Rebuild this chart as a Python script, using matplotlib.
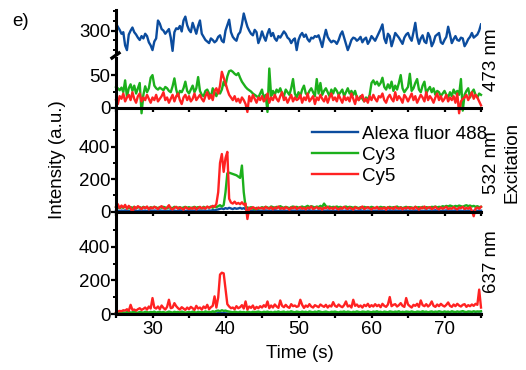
import numpy as np
import matplotlib
matplotlib.use("Agg")
import matplotlib.pyplot as plt

plt.rcParams['font.family'] = ['Liberation Sans', 'DejaVu Sans']
plt.rcParams['font.size'] = 13.5

# time axis: 25 s to 75 s, one frame every 0.25 s
t_start, t_step = 25.0, 0.25

# 473 nm excitation (top panel)
blue_473 = [
    318, 310, 302, 292, 296, 262, 250, 290, 300, 308, 296, 290, 282, 276, 286, 280, 292, 286, 270, 262,
    250, 272, 280, 326, 318, 304, 300, 292, 298, 304, 282, 248, 296, 306, 304, 312, 298, 326, 336, 314,
    302, 296, 320, 306, 292, 312, 326, 292, 284, 276, 272, 268, 280, 276, 270, 274, 284, 288, 274, 270,
    300, 314, 328, 296, 284, 278, 274, 290, 296, 316, 344, 326, 310, 300, 292, 288, 302, 296, 268, 280,
    298, 284, 274, 292, 304, 286, 294, 280, 274, 286, 282, 290, 298, 292, 282, 278, 268, 276, 280, 250,
    276, 288, 294, 284, 290, 278, 272, 282, 280, 286, 284, 288, 274, 258, 282, 302, 284, 276, 270, 274,
    272, 266, 276, 290, 298, 282, 266, 250, 262, 276, 282, 280, 274, 278, 284, 270, 278, 282, 266, 274,
    286, 280, 274, 284, 294, 304, 316, 280, 268, 292, 286, 260, 276, 294, 288, 282, 274, 266, 282, 290,
    294, 282, 274, 296, 320, 284, 266, 280, 288, 272, 268, 294, 284, 260, 270, 286, 290, 294, 270, 266,
    276, 284, 310, 290, 268, 278, 286, 276, 274, 282, 280, 260, 268, 278, 284, 294, 282, 286, 290, 300,
    316]
green_473 = [
    32, 30, 27, 31, 24, 42, 17, 30, 36, 26, 34, 22, 30, 38, -8, 20, 33, 24, 30, 46,
    50, 34, 30, 28, 31, 29, 27, 32, 30, 26, 24, 33, 45, 28, 18, 26, 24, 30, 40, 26,
    22, 28, 34, 24, 30, 47, 26, 20, 18, 26, 28, 22, 16, 30, 24, 18, 27, 22, 28, 40,
    34, 48, 56, 57, 55, 52, 50, 53, 46, 40, 36, 32, 29, 27, 25, 22, 20, 18, 16, 22,
    28, 14, 20, -6, 60, 18, 26, 20, 28, 24, 30, 22, 18, 28, 24, 20, 30, 44, 22, 16,
    24, 18, 28, 34, 22, 20, 26, 30, 24, 18, 44, 22, 38, 20, 26, 30, 24, 18, 28, 22,
    30, 26, 20, 24, 28, 18, 24, 30, 22, 26, 20, 26, 16, 12, 18, 14, 10, 16, 12, 20,
    38, 42, 36, 40, 34, 38, 46, 32, 28, 36, 30, 40, 26, 34, 28, 38, 50, 30, 24, 28,
    32, 52, 26, 30, 38, 44, 28, 24, 34, 40, 22, 28, 32, 24, 30, 20, 26, 24, 18, 22,
    26, 20, 16, 24, 18, 28, 22, 26, 20, 44, -4, 20, 26, 30, 16, 24, 28, 20, 16, 22,
    20]
red_473 = [
    12, 6, 18, 14, 22, 10, 16, 20, 12, 24, 14, 8, 18, 22, 10, 16, 12, 20, 14, 8,
    16, 12, 20, 10, 14, 18, 24, 12, 16, 8, 14, 20, 10, 18, 22, 12, 6, 16, 20, 12,
    18, 10, 14, 22, 12, 16, 20, 14, 10, 18, 24, 14, 20, 12, 26, 30, 22, 34, 55, 46,
    38, 28, 20, 16, 12, 18, 10, 14, 8, 16, 12, 6, -6, 18, 10, 20, 14, 8, 16, 12,
    18, 10, 14, 22, 8, 16, 12, 20, 14, 10, 18, 24, 12, 16, 8, 14, 20, 10, 16, 12,
    14, 20, 8, 16, 12, 22, 10, 14, 18, 6, 16, 12, 20, 14, 10, 18, 8, 16, 22, 12,
    16, 10, 20, 14, 8, 18, 12, 16, 10, 22, 14, 6, 18, 12, 16, 20, 10, 14, 8, 18,
    12, 20, 14, 10, 18, 16, 22, 12, 8, 16, 20, 14, 10, 24, 12, 18, 14, 8, 20, 16,
    10, 16, 22, 12, 18, 8, 14, 20, 16, 10, 24, 12, 18, 14, 8, 16, 22, 12, 18, 10,
    14, 20, 10, 16, 12, 18, 8, 22, -8, 10, 14, 16, 20, 12, 18, 24, 14, 20, 16, 10,
    4]

# 532 nm excitation (middle panel)
blue_532 = [
    8, 6, 4, 7, 5, 8, 6, 3, 7, 5, 9, 6, 4, 8, 6, 5, 7, 4, 6, 8,
    5, 7, 6, 4, 8, 6, 5, 7, 3, 6, 8, 5, 7, 4, 6, 9, 5, 6, 4, 7,
    6, 8, 5, 7, 4, 6, 8, 5, 7, 6, 4, 8, 6, 10, 8, 12, 14, 18, 20, 16,
    22, 18, 24, 20, 16, 22, 18, 20, 24, 18, 22, 16, 12, 8, 6, 7, 5, 8, 6, 4,
    7, 5, 8, 6, 4, 7, 5, 9, 6, 4, 8, 6, 5, 7, 3, 6, 8, 5, 7, 4,
    6, 8, 5, 7, 4, 6, 9, 5, 7, 6, 4, 8, 6, 5, 7, 4, 8, 6, 5, 7,
    5, 7, 4, 8, 6, 5, 7, 3, 6, 8, 5, 7, 4, 6, 9, 5, 6, 4, 7, 5,
    8, 6, 4, 7, 5, 8, 6, 4, 7, 5, 9, 6, 4, 8, 6, 5, 7, 4, 6, 8,
    5, 7, 6, 4, 8, 6, 5, 7, 3, 6, 8, 5, 7, 4, 6, 9, 5, 6, 4, 7,
    6, 8, 5, 7, 4, 6, 8, 5, 7, 6, 4, 8, 6, 5, 7, -3, 6, 8, 5, 7,
    6]
green_532 = [
    30, 26, 22, 28, 24, 32, 26, 20, 28, 24, 30, 22, 26, 28, 22, 30, 24, 26, 20, 28,
    24, 30, 26, 22, 28, 24, 30, 26, 20, 28, 24, 22, 30, 26, 24, 28, 22, 26, 30, 24,
    28, 22, 26, 30, 24, 28, 26, 20, 30, 24, 28, 26, 32, 24, 30, 28, 34, 40, 32, 40,
    120, 236, 240, 236, 232, 228, 224, 216, 208, 284, 120, 30, 26, 22, 28, 20, 14, 24, 18, 22,
    28, 24, 30, 26, 22, 32, 28, 24, 30, 26, 34, 28, 24, 30, 26, 22, 28, 32, 26, 30,
    24, 28, 32, 26, 30, 36, 28, 34, 30, 26, 32, 28, 36, 30, 50, 34, 28, 32, 26, 30,
    28, 32, 26, 30, 24, 28, 32, 26, 30, 28, 24, 30, 26, 22, 28, 24, 30, 26, 28, 24,
    30, 26, 22, 28, 24, 30, 26, 28, 22, 26, 30, 24, 28, 26, 32, 24, 28, 22, 26, 30,
    24, 28, 26, 22, 30, 26, 28, 24, 30, 22, 28, 26, 24, 30, 28, 32, 26, 30, 28, 34,
    30, 36, 32, 38, 34, 30, 36, 32, 38, 34, 30, 36, 40, 34, 38, 32, 36, 30, 34, 28,
    30]
red_532 = [
    30, 46, 22, 38, 26, 42, 18, 36, 24, -6, 30, 20, 34, 26, 16, 28, 22, 32, 14, 26,
    20, 30, 24, 16, 28, 34, 22, 18, 26, 40, 20, 14, 24, 30, 18, 26, 20, 12, 28, 22,
    16, 24, 18, 28, 14, 22, 30, 20, 26, 18, 32, 24, 28, 36, 30, 48, 120, 300, 355, 245,
    330, 368, 80, 56, 50, 62, 48, 54, 46, 58, 44, 50, -45, 24, 18, 28, 22, 16, 26, 20,
    24, 16, 30, 22, 18, 28, 14, 26, 20, 32, 18, 24, 16, 28, 22, 12, 26, 20, 30, 16,
    22, 28, 18, 24, 14, 26, 20, 32, 16, 22, 28, 18, 24, 12, 26, 20, 30, 18, 24, 16,
    28, 20, 14, 24, 18, 30, 22, 16, 26, 20, 12, 28, 22, 18, 24, 32, 16, 22, 28, 20,
    14, 24, 20, 30, 16, 22, 18, 26, 12, 28, 20, 24, 16, 30, 22, 18, 26, 14, 24, 20,
    28, 18, 24, 16, 30, 22, 12, 26, 20, 32, 18, 24, 28, 16, 22, 30, 20, 14, 26, 18,
    24, 30, 16, 22, 18, 28, 20, 14, 26, 22, 30, 16, 24, 18, 28, 6, -28, 20, 26, 18,
    30]

# 637 nm excitation (bottom panel)
blue_637 = [
    3, 5, 4, 6, 3, 4, 5, 2, 4, 6, 3, 5, 4, 3, 6, 4, 5, 3, 4, 5,
    4, 6, 3, 5, 4, 2, 5, 4, 6, 3, 4, 5, 3, 6, 4, 5, 2, 4, 5, 3,
    5, 3, 4, 6, 4, 5, 3, 4, 6, 5, 3, 4, 5, 4, 6, 5, 7, 8, 6, 7,
    6, 5, 4, 6, 3, 5, 4, 6, 3, 4, 5, 3, 6, 4, 5, 2, 4, 5, 3, 4,
    5, 3, 6, 4, 5, 3, 4, 6, 4, 5, 3, 4, 6, 5, 3, 4, 5, 3, 6, 4,
    4, 6, 3, 5, 4, 6, 3, 4, 5, 3, 6, 4, 5, 4, 3, 6, 4, 5, 3, 4,
    6, 4, 5, 3, 4, 6, 5, 3, 4, 6, 4, 5, 3, 5, 4, 6, 3, 4, 5, 4,
    3, 5, 4, 6, 3, 5, 4, 3, 6, 4, 5, 3, 4, 6, 5, 4, 3, 5, 4, 6,
    5, 4, 3, 6, 4, 5, 3, 4, 6, 5, 4, 3, 5, 4, 6, 3, 5, 4, 3, 5,
    4, 6, 5, 3, 4, 5, 6, 4, 3, 5, 4, 6, 3, 5, 4, 5, 3, 6, 4, 5,
    4]
green_637 = [
    8, 12, 10, 14, 11, 9, 13, 15, 10, 12, 16, 11, 9, 14, 12, 10, 15, 13, 11, 14,
    12, 16, 10, 13, 15, 11, 14, 9, 12, 16, 13, 10, 15, 12, 14, 11, 16, 13, 10, 12,
    14, 11, 16, 13, 10, 15, 12, 14, 11, 17, 13, 15, 12, 18, 14, 20, 22, 18, 24, 20,
    22, 18, 16, 14, 12, 16, 13, 11, 15, 12, 14, 10, 16, 13, 11, 15, 12, 14, 16, 13,
    11, 15, 13, 16, 12, 14, 10, 15, 13, 17, 12, 14, 16, 11, 15, 13, 18, 14, 12, 16,
    14, 12, 16, 13, 15, 11, 17, 14, 12, 16, 13, 18, 15, 12, 14, 16, 13, 11, 15, 14,
    16, 13, 11, 15, 14, 17, 12, 16, 14, 11, 15, 13, 17, 14, 12, 16, 15, 13, 17, 14,
    12, 16, 14, 18, 13, 15, 11, 16, 14, 12, 17, 15, 13, 16, 14, 18, 12, 15, 13, 16,
    15, 13, 17, 14, 12, 16, 15, 13, 18, 14, 16, 12, 15, 17, 13, 16, 14, 18, 15, 13,
    17, 14, 16, 12, 18, 15, 13, 17, 14, 16, 19, 15, 13, 17, 16, 14, 18, 15, 17, 16,
    18]
red_637 = [
    10, 16, 20, 18, 24, 22, 30, 20, 56, 26, 28, 22, 30, 36, 26, 32, 40, 28, 46, 34,
    96, 40, 34, 46, 30, 52, 38, 28, 44, 86, 36, 40, 66, 48, 36, 28, 42, 34, 26, 40,
    30, 44, 36, 26, 50, 34, 40, 28, 46, 36, 56, 30, 42, 50, 106, 40, 100, 235, 246, 242,
    150, 60, 46, 36, 40, 30, 48, 36, 42, 54, 34, 76, 28, 46, 38, 52, 30, 44, 36, 48,
    40, 54, 44, 76, 36, 52, 40, 58, 46, 38, 82, 50, 42, 56, 44, 38, 60, 48, 52, 44,
    48, 86, 56, 38, 52, 44, 60, 46, 40, 54, 48, 42, 58, 50, 44, 56, 40, 52, 46, 72,
    50, 44, 58, 48, 42, 54, 76, 46, 52, 40, 86, 50, 58, 44, 52, 40, 56, 48, 62, 44,
    54, 46, 60, 48, 56, 42, 62, 50, 44, 58, 102, 48, 56, 60, 46, 54, 66, 50, 44, 96,
    58, 48, 40, 56, 50, 62, 44, 82, 54, 48, 60, 46, 56, 76, 50, 44, 58, 48, 62, 52,
    46, 56, 70, 50, 44, 58, 48, 62, 52, 46, 56, 60, 44, 54, 48, 58, 50, 62, 56, 146,
    40]

series_names = ["Alexa fluor 488", "Cy3", "Cy5"]
colors = ["#0b4c9e", "#1cb01c", "#ff2222"]
excitations = ["473 nm", "532 nm", "637 nm"]

t = t_start + t_step * np.arange(len(blue_473))

W, H = 526, 370
fig = plt.figure(figsize=(W / 100, H / 100), dpi=100)


def box(left, top, right, bottom):
    return [left / W, 1 - bottom / H, (right - left) / W, (bottom - top) / H]


ax_hi = fig.add_axes(box(116, 10, 481, 54))
ax_lo = fig.add_axes(box(116, 58, 481, 108))
ax_mid = fig.add_axes(box(116, 108, 481, 211.7))
ax_bot = fig.add_axes(box(116, 212.5, 481, 314.3))

lw = 1.7
ax_hi.plot(t, blue_473, color=colors[0], lw=lw)
ax_lo.plot(t, green_473, color=colors[1], lw=lw, clip_on=False)
ax_lo.plot(t, red_473, color=colors[2], lw=lw, clip_on=False)

handles = []
for vals, c, name in zip([blue_532, green_532, red_532], colors, series_names):
    h, = ax_mid.plot(t, vals, color=c, lw=lw, clip_on=False, label=name)
    handles.append(h)
for vals, c in zip([blue_637, green_637, red_637], colors):
    ax_bot.plot(t, vals, color=c, lw=lw, clip_on=False)

ax_hi.set_ylim(240, 353)
ax_lo.set_ylim(0, 76)
ax_mid.set_ylim(0, 638)
ax_bot.set_ylim(0, 602)

ax_hi.set_yticks([300])
ax_hi.set_yticks([250, 275, 325, 350], minor=True)
ax_lo.set_yticks([0, 50])
ax_lo.set_yticks([25], minor=True)
for ax in (ax_mid, ax_bot):
    ax.set_yticks([0, 200, 400])
    ax.set_yticks([100, 300, 500], minor=True)

xt = np.arange(25, 76, 5)
for ax in (ax_hi, ax_lo, ax_mid, ax_bot):
    ax.set_xlim(25, 75)
    ax.patch.set_alpha(0)
    for s in ("top", "right"):
        ax.spines[s].set_visible(False)
    ax.spines["left"].set_linewidth(2.2)
    ax.spines["bottom"].set_linewidth(2.2)
    ax.tick_params(axis="y", which="major", length=3.5, width=1.6, pad=0.5, labelsize=13.5)
    ax.tick_params(axis="y", which="minor", length=2.5, width=1.4)
    ax.tick_params(axis="x", which="major", length=3.0, width=1.6, pad=2, labelsize=13.5)
    ax.set_xticks(xt)
    ax.set_xticklabels([str(v) if v % 10 == 0 else "" for v in xt])
    if ax is not ax_bot:
        ax.tick_params(axis="x", labelbottom=False)

ax_hi.spines["bottom"].set_visible(False)
ax_hi.tick_params(axis="x", bottom=False, labelbottom=False)

# axis break mark
fig.add_artist(plt.Line2D([112 / W, 119 / W], [1 - 58 / H, 1 - 53 / H],
                          color="black", lw=2.4, transform=fig.transFigure))

ax_mid.legend(handles=handles, loc="upper left", bbox_to_anchor=(0.537, 0.83),
              frameon=False, fontsize=13.5, handlelength=2.45, handletextpad=0.22,
              labelspacing=0.2, borderpad=0, borderaxespad=0)

fig.text(12 / W, 1 - 22 / H, "e)", ha="left", va="center", fontsize=13.5)
fig.text(57 / W, 1 - 160 / H, "Intensity (a.u.)", rotation=90, ha="center", va="center")
fig.text(300 / W, 1 - 353 / H, "Time (s)", ha="center", va="center")
for label, yc in zip(excitations, [60, 163, 262]):
    fig.text(491 / W, 1 - yc / H, label, rotation=90, ha="center", va="center")
fig.text(512 / W, 1 - 162 / H, "Excitation", rotation=90, ha="center", va="center")

fig.savefig("out.png", dpi=100)
